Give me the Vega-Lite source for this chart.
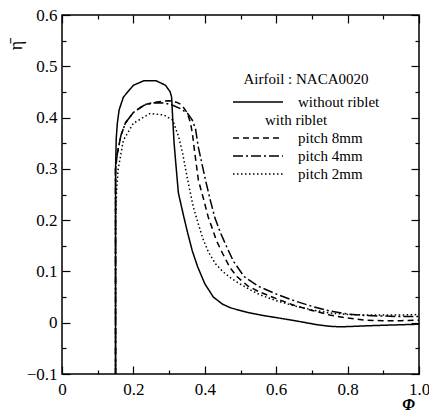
{
  "$schema": "https://vega.github.io/schema/vega-lite/v6.json",
  "width": 357,
  "height": 359,
  "autosize": {"type": "none"},
  "padding": {"left": 62, "top": 15, "right": 10, "bottom": 37},
  "background": "white",
  "config": {
    "view": {"stroke": "black", "strokeWidth": 1.5},
    "font": "Liberation Serif",
    "axis": {"domain": false, "grid": false, "tickColor": "black", "tickWidth": 1.2, "labelColor": "black", "labelFont": "Liberation Serif", "labelFontSize": 17, "titleColor": "black", "titleFont": "Liberation Serif"}
  },
  "datasets": {
    "curves": [
      {"s": "without riblet", "x": 0.15, "y": -0.1},
      {"s": "without riblet", "x": 0.15, "y": 0.30},
      {"s": "without riblet", "x": 0.152, "y": 0.36},
      {"s": "without riblet", "x": 0.155, "y": 0.389},
      {"s": "without riblet", "x": 0.16, "y": 0.415},
      {"s": "without riblet", "x": 0.172, "y": 0.44},
      {"s": "without riblet", "x": 0.2, "y": 0.463},
      {"s": "without riblet", "x": 0.23, "y": 0.472},
      {"s": "without riblet", "x": 0.263, "y": 0.472},
      {"s": "without riblet", "x": 0.29, "y": 0.463},
      {"s": "without riblet", "x": 0.303, "y": 0.45},
      {"s": "without riblet", "x": 0.307, "y": 0.44},
      {"s": "without riblet", "x": 0.31, "y": 0.40},
      {"s": "without riblet", "x": 0.314, "y": 0.35},
      {"s": "without riblet", "x": 0.318, "y": 0.317},
      {"s": "without riblet", "x": 0.326, "y": 0.253},
      {"s": "without riblet", "x": 0.34, "y": 0.21},
      {"s": "without riblet", "x": 0.352, "y": 0.175},
      {"s": "without riblet", "x": 0.365, "y": 0.14},
      {"s": "without riblet", "x": 0.38, "y": 0.109},
      {"s": "without riblet", "x": 0.4, "y": 0.076},
      {"s": "without riblet", "x": 0.424, "y": 0.05},
      {"s": "without riblet", "x": 0.45, "y": 0.036},
      {"s": "without riblet", "x": 0.472, "y": 0.029},
      {"s": "without riblet", "x": 0.52, "y": 0.02},
      {"s": "without riblet", "x": 0.564, "y": 0.014},
      {"s": "without riblet", "x": 0.6, "y": 0.01},
      {"s": "without riblet", "x": 0.66, "y": 0.003},
      {"s": "without riblet", "x": 0.715, "y": -0.004},
      {"s": "without riblet", "x": 0.75, "y": -0.007},
      {"s": "without riblet", "x": 0.78, "y": -0.008},
      {"s": "without riblet", "x": 0.82, "y": -0.007},
      {"s": "without riblet", "x": 0.855, "y": -0.006},
      {"s": "without riblet", "x": 0.9, "y": -0.005},
      {"s": "without riblet", "x": 0.948, "y": -0.004},
      {"s": "without riblet", "x": 1.0, "y": -0.003},

      {"s": "pitch 8mm", "x": 0.15, "y": -0.1},
      {"s": "pitch 8mm", "x": 0.15, "y": 0.30},
      {"s": "pitch 8mm", "x": 0.155, "y": 0.33},
      {"s": "pitch 8mm", "x": 0.165, "y": 0.365},
      {"s": "pitch 8mm", "x": 0.178, "y": 0.39},
      {"s": "pitch 8mm", "x": 0.2, "y": 0.41},
      {"s": "pitch 8mm", "x": 0.23, "y": 0.425},
      {"s": "pitch 8mm", "x": 0.26, "y": 0.43},
      {"s": "pitch 8mm", "x": 0.3, "y": 0.433},
      {"s": "pitch 8mm", "x": 0.32, "y": 0.43},
      {"s": "pitch 8mm", "x": 0.335, "y": 0.425},
      {"s": "pitch 8mm", "x": 0.35, "y": 0.41},
      {"s": "pitch 8mm", "x": 0.36, "y": 0.39},
      {"s": "pitch 8mm", "x": 0.366, "y": 0.365},
      {"s": "pitch 8mm", "x": 0.37, "y": 0.342},
      {"s": "pitch 8mm", "x": 0.376, "y": 0.31},
      {"s": "pitch 8mm", "x": 0.382, "y": 0.278},
      {"s": "pitch 8mm", "x": 0.395, "y": 0.245},
      {"s": "pitch 8mm", "x": 0.41, "y": 0.205},
      {"s": "pitch 8mm", "x": 0.424, "y": 0.178},
      {"s": "pitch 8mm", "x": 0.432, "y": 0.161},
      {"s": "pitch 8mm", "x": 0.45, "y": 0.135},
      {"s": "pitch 8mm", "x": 0.47, "y": 0.108},
      {"s": "pitch 8mm", "x": 0.49, "y": 0.09},
      {"s": "pitch 8mm", "x": 0.52, "y": 0.072},
      {"s": "pitch 8mm", "x": 0.55, "y": 0.061},
      {"s": "pitch 8mm", "x": 0.6, "y": 0.047},
      {"s": "pitch 8mm", "x": 0.65, "y": 0.034},
      {"s": "pitch 8mm", "x": 0.7, "y": 0.024},
      {"s": "pitch 8mm", "x": 0.75, "y": 0.015},
      {"s": "pitch 8mm", "x": 0.8, "y": 0.009},
      {"s": "pitch 8mm", "x": 0.85, "y": 0.005},
      {"s": "pitch 8mm", "x": 0.9, "y": 0.004},
      {"s": "pitch 8mm", "x": 0.95, "y": 0.004},
      {"s": "pitch 8mm", "x": 1.0, "y": 0.005},

      {"s": "pitch 4mm", "x": 0.15, "y": -0.1},
      {"s": "pitch 4mm", "x": 0.15, "y": 0.30},
      {"s": "pitch 4mm", "x": 0.155, "y": 0.33},
      {"s": "pitch 4mm", "x": 0.165, "y": 0.365},
      {"s": "pitch 4mm", "x": 0.178, "y": 0.39},
      {"s": "pitch 4mm", "x": 0.2, "y": 0.41},
      {"s": "pitch 4mm", "x": 0.23, "y": 0.424},
      {"s": "pitch 4mm", "x": 0.26, "y": 0.429},
      {"s": "pitch 4mm", "x": 0.29, "y": 0.428},
      {"s": "pitch 4mm", "x": 0.31, "y": 0.424},
      {"s": "pitch 4mm", "x": 0.33, "y": 0.418},
      {"s": "pitch 4mm", "x": 0.352, "y": 0.408},
      {"s": "pitch 4mm", "x": 0.365, "y": 0.395},
      {"s": "pitch 4mm", "x": 0.374, "y": 0.378},
      {"s": "pitch 4mm", "x": 0.382, "y": 0.342},
      {"s": "pitch 4mm", "x": 0.392, "y": 0.31},
      {"s": "pitch 4mm", "x": 0.402, "y": 0.278},
      {"s": "pitch 4mm", "x": 0.415, "y": 0.24},
      {"s": "pitch 4mm", "x": 0.428, "y": 0.205},
      {"s": "pitch 4mm", "x": 0.444, "y": 0.175},
      {"s": "pitch 4mm", "x": 0.46, "y": 0.15},
      {"s": "pitch 4mm", "x": 0.48, "y": 0.12},
      {"s": "pitch 4mm", "x": 0.51, "y": 0.09},
      {"s": "pitch 4mm", "x": 0.55, "y": 0.071},
      {"s": "pitch 4mm", "x": 0.6, "y": 0.056},
      {"s": "pitch 4mm", "x": 0.65, "y": 0.043},
      {"s": "pitch 4mm", "x": 0.7, "y": 0.032},
      {"s": "pitch 4mm", "x": 0.75, "y": 0.023},
      {"s": "pitch 4mm", "x": 0.8, "y": 0.017},
      {"s": "pitch 4mm", "x": 0.85, "y": 0.014},
      {"s": "pitch 4mm", "x": 0.9, "y": 0.013},
      {"s": "pitch 4mm", "x": 0.95, "y": 0.012},
      {"s": "pitch 4mm", "x": 1.0, "y": 0.012},

      {"s": "pitch 2mm", "x": 0.15, "y": -0.1},
      {"s": "pitch 2mm", "x": 0.15, "y": 0.2},
      {"s": "pitch 2mm", "x": 0.153, "y": 0.26},
      {"s": "pitch 2mm", "x": 0.157, "y": 0.298},
      {"s": "pitch 2mm", "x": 0.172, "y": 0.356},
      {"s": "pitch 2mm", "x": 0.2, "y": 0.389},
      {"s": "pitch 2mm", "x": 0.247, "y": 0.408},
      {"s": "pitch 2mm", "x": 0.285, "y": 0.405},
      {"s": "pitch 2mm", "x": 0.31, "y": 0.395},
      {"s": "pitch 2mm", "x": 0.327, "y": 0.362},
      {"s": "pitch 2mm", "x": 0.338, "y": 0.33},
      {"s": "pitch 2mm", "x": 0.346, "y": 0.3},
      {"s": "pitch 2mm", "x": 0.356, "y": 0.265},
      {"s": "pitch 2mm", "x": 0.368, "y": 0.225},
      {"s": "pitch 2mm", "x": 0.38, "y": 0.197},
      {"s": "pitch 2mm", "x": 0.394, "y": 0.165},
      {"s": "pitch 2mm", "x": 0.41, "y": 0.138},
      {"s": "pitch 2mm", "x": 0.43, "y": 0.115},
      {"s": "pitch 2mm", "x": 0.45, "y": 0.1},
      {"s": "pitch 2mm", "x": 0.475, "y": 0.086},
      {"s": "pitch 2mm", "x": 0.5, "y": 0.075},
      {"s": "pitch 2mm", "x": 0.53, "y": 0.063},
      {"s": "pitch 2mm", "x": 0.56, "y": 0.053},
      {"s": "pitch 2mm", "x": 0.6, "y": 0.043},
      {"s": "pitch 2mm", "x": 0.65, "y": 0.033},
      {"s": "pitch 2mm", "x": 0.7, "y": 0.025},
      {"s": "pitch 2mm", "x": 0.75, "y": 0.019},
      {"s": "pitch 2mm", "x": 0.8, "y": 0.016},
      {"s": "pitch 2mm", "x": 0.85, "y": 0.015},
      {"s": "pitch 2mm", "x": 0.9, "y": 0.015},
      {"s": "pitch 2mm", "x": 0.95, "y": 0.015},
      {"s": "pitch 2mm", "x": 1.0, "y": 0.016}
    ]
  },
  "data": {"name": "curves"},
  "layer": [
    {
      "mark": {"type": "line", "strokeWidth": 1.5},
      "encoding": {
        "x": {
          "field": "x", "type": "quantitative",
          "scale": {"domain": [0, 1], "nice": false, "zero": false},
          "axis": {
            "orient": "bottom",
            "values": [0, 0.1, 0.2, 0.3, 0.4, 0.5, 0.6, 0.7, 0.8, 0.9, 1.0],
            "tickSize": {"condition": {"test": "round(datum.value*10) % 2 == 0", "value": -8}, "value": -4},
            "labelExpr": "round(datum.value*10) % 2 == 0 ? (datum.value == 0 ? '0' : format(datum.value, '.1f')) : ''",
            "labelPadding": 15,
            "labelFlush": false,
            "labelOverlap": false,
            "title": "Φ",
            "titleFontSize": 16,
            "titleFontStyle": "italic",
            "titleFontWeight": "bold",
            "titleX": 346,
            "titleY": 30,
            "titleBaseline": "middle",
            "titleAlign": "center"
          }
        },
        "y": {
          "field": "y", "type": "quantitative",
          "scale": {"domain": [-0.1, 0.6], "nice": false, "zero": false},
          "axis": {
            "orient": "left",
            "values": [-0.1, -0.05, 0, 0.05, 0.1, 0.15, 0.2, 0.25, 0.3, 0.35, 0.4, 0.45, 0.5, 0.55, 0.6],
            "tickSize": {"condition": {"test": "round(datum.value*100) % 10 == 0", "value": -8}, "value": -4},
            "labelExpr": "round(datum.value*100) % 10 == 0 ? (datum.value == 0 ? '0' : format(datum.value, '.1f')) : ''",
            "labelPadding": 13,
            "labelFlush": false,
            "labelOverlap": false,
            "title": "η̄",
            "titleFontSize": 18,
            "titleFontWeight": "normal",
            "titleAngle": -90,
            "titleX": -46,
            "titleY": 30,
            "titleAlign": "center",
            "titleBaseline": "middle"
          }
        },
        "strokeDash": {
          "field": "s", "type": "nominal",
          "scale": {
            "domain": ["without riblet", "with riblet", "pitch 8mm", "pitch 4mm", "pitch 2mm"],
            "range": [[1, 0], [1, 0], [6, 4], [10, 3, 2, 3], [1.5, 2.5]]
          },
          "legend": {
            "orient": "none",
            "legendX": 170,
            "legendY": 57,
            "title": "Airfoil : NACA0020",
            "titleFontSize": 15,
            "titleFontWeight": "normal",
            "titleColor": "black",
            "titleFont": "Liberation Serif",
            "titleAnchor": "middle",
            "titlePadding": 7,
            "labelFontSize": 15,
            "labelFont": "Liberation Serif",
            "labelColor": "black",
            "labelOffset": 14,
            "symbolType": "stroke",
            "symbolSize": 2500,
            "symbolStrokeWidth": 1.3,
            "clipHeight": 16,
            "rowPadding": 2,
            "encode": {
              "labels": {"update": {"dx": {"signal": "datum.value === 'with riblet' ? -33 : 0"}}}
            }
          }
        },
        "stroke": {
          "field": "s", "type": "nominal",
          "scale": {
            "domain": ["without riblet", "with riblet", "pitch 8mm", "pitch 4mm", "pitch 2mm"],
            "range": ["black", "white", "black", "black", "black"]
          }
        },
        "order": {"value": null}
      }
    },
    {
      "mark": {"type": "line", "opacity": 0},
      "encoding": {
        "x": {
          "field": "x", "type": "quantitative",
          "axis": {
            "orient": "top",
            "values": [0, 0.1, 0.2, 0.3, 0.4, 0.5, 0.6, 0.7, 0.8, 0.9, 1.0],
            "tickSize": {"condition": {"test": "round(datum.value*10) % 2 == 0", "value": -8}, "value": -4},
            "labels": false,
            "title": null
          }
        },
        "y": {
          "field": "y", "type": "quantitative",
          "axis": {
            "orient": "right",
            "values": [-0.1, -0.05, 0, 0.05, 0.1, 0.15, 0.2, 0.25, 0.3, 0.35, 0.4, 0.45, 0.5, 0.55, 0.6],
            "tickSize": {"condition": {"test": "round(datum.value*100) % 10 == 0", "value": -8}, "value": -4},
            "labels": false,
            "title": null
          }
        },
        "detail": {"field": "s"},
        "order": {"value": null}
      }
    }
  ],
  "resolve": {"axis": {"x": "independent", "y": "independent"}}
}
